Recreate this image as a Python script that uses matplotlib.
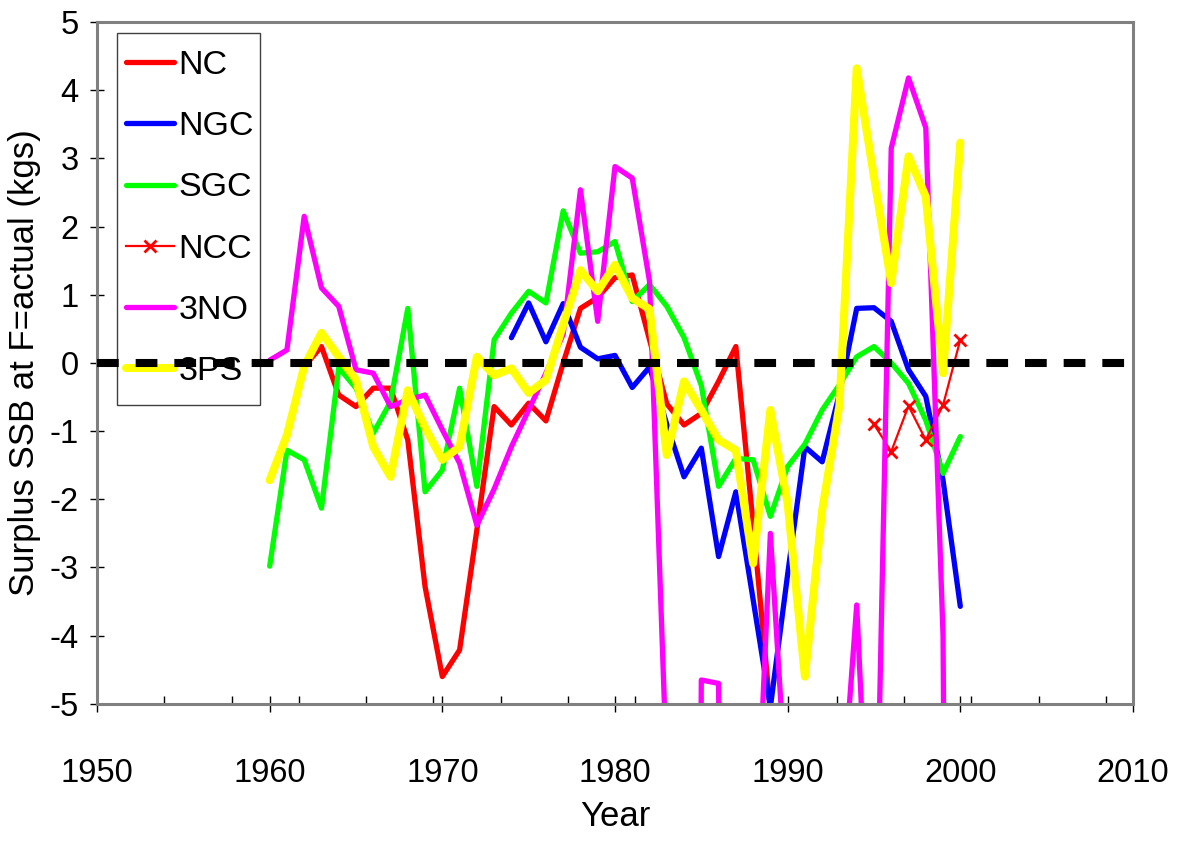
import numpy as np
import matplotlib
matplotlib.use('Agg')
import matplotlib.pyplot as plt
from matplotlib.patches import Rectangle
from matplotlib.ticker import FixedLocator, MultipleLocator

plt.rcParams['font.family'] = ['Liberation Sans', 'DejaVu Sans']
plt.rcParams['axes.unicode_minus'] = False

nan = np.nan
years = np.arange(1960, 2001)

# NC empieza en 1962, despues de 1989 queda fuera de escala
nc = [nan, nan, -0.05, 0.24, -0.47, -0.64, -0.37, -0.37, -1.13, -3.28,
      -4.60, -4.21, -2.45, -0.64, -0.91, -0.59, -0.85, 0.0, 0.80, 0.96,
      1.25, 1.29, 0.34, -0.60, -0.91, -0.74, -0.27, 0.24, -2.36, -5.1,
      nan, nan, nan, nan, nan, nan, nan, nan, nan, nan, nan]

ngc = [nan] * 14 + [0.37, 0.88, 0.31, 0.87, 0.23, 0.06, 0.11, -0.36, -0.06,
                    -0.90, -1.67, -1.25, -2.84, -1.89, -3.47, -5.05, -3.1,
                    -1.23, -1.45, -0.45, 0.80, 0.81, 0.61, -0.10, -0.49,
                    -1.72, -3.57]

sgc = [-2.98, -1.28, -1.42, -2.13, -0.07, -0.37, -1.03, -0.57, 0.80, -1.89,
       -1.57, -0.37, -1.81, 0.34, 0.73, 1.05, 0.88, 2.23, 1.61, 1.63,
       1.78, 0.90, 1.15, 0.83, 0.37, -0.33, -1.81, -1.40, -1.42, -2.25,
       -1.52, -1.19, -0.69, -0.32, 0.09, 0.24, 0.0, -0.30, -0.84, -1.62,
       -1.08]

ncc = [nan] * 35 + [-0.90, -1.30, -0.63, -1.13, -0.62, 0.34]

# 3NO: valores por debajo de -5 quedan cortados por el eje
no3 = [0.04, 0.19, 2.15, 1.10, 0.83, -0.10, -0.15, -0.64, -0.54, -0.47,
       -0.98, -1.47, -2.38, -1.85, -1.23, -0.69, -0.15, 0.42, 2.54, 0.61,
       2.88, 2.71, 1.20, -6.0, -40.0, -4.65, -4.70, -40.0, -8.2, -2.5,
       -6.6, -40.0, -40.0, -7.0, -3.55, -9.0, 3.15, 4.18, 3.45, -4.0,
       -40.0]

ps3 = [-1.72, -1.06, -0.05, 0.44, 0.09, -0.25, -1.23, -1.67, -0.40, -0.95,
       -1.42, -1.23, 0.09, -0.18, -0.08, -0.44, -0.25, 0.56, 1.36, 1.05,
       1.44, 0.95, 0.79, -1.35, -0.27, -0.69, -1.13, -1.28, -2.94, -0.69,
       -2.06, -4.60, -2.16, -0.62, 4.32, 2.73, 1.17, 3.03, 2.44, -0.15,
       3.23]

fig = plt.figure(figsize=(11.83, 8.46), dpi=100)
ax = fig.add_axes([0.082, 0.168, 0.8757, 0.806])

kw = dict(solid_joinstyle='round', solid_capstyle='round')
ax.plot(years, nc, color='#ff0000', lw=3.8, label='NC', **kw)
ax.plot(years, ngc, color='#0000ff', lw=3.8, label='NGC', **kw)
ax.plot(years, sgc, color='#00ff00', lw=3.8, label='SGC', **kw)
ax.plot(years, ncc, color='#ff0000', lw=1.6, marker='x', ms=8, mew=2,
        label='NCC')
ax.plot(years, no3, color='#ff00ff', lw=3.8, label='3NO', **kw)
ax.plot(years, ps3, color='#ffff00', lw=5.8, label='3PS', **kw)

# linea de referencia en cero
ax.axhline(0, color='black', lw=5.8, dashes=(2.7, 2.1), zorder=10)

ax.set_xlim(1950, 2010)
ax.set_ylim(-5, 5)
ax.xaxis.set_major_locator(MultipleLocator(10))
ax.xaxis.set_minor_locator(FixedLocator(np.arange(1950, 2010, 3.896)))
ax.yaxis.set_major_locator(MultipleLocator(1))
ax.tick_params(axis='x', which='major', direction='inout', length=12,
               width=1, pad=33, labelsize=23.5)
ax.tick_params(axis='x', which='minor', direction='in', length=6, width=1)
ax.tick_params(axis='y', which='major', direction='inout', length=10,
               width=1, pad=8, labelsize=23.5)

for s in ax.spines.values():
    s.set_color('#808080')
    s.set_linewidth(2.2)

ax.set_xlabel('Year', fontsize=25, labelpad=8)
ax.set_ylabel('Surplus SSB at F=actual (kgs)', fontsize=25, labelpad=6)

# marco de la leyenda dibujado aparte (mas estrecho que el de matplotlib)
ax.add_patch(Rectangle((0.0193, 0.4384), 0.138, 0.5456, transform=ax.transAxes,
                       facecolor='white', edgecolor='#404040', lw=1.0,
                       zorder=4.5))
leg = ax.legend(loc='upper left', bbox_to_anchor=(0.0115, 0.984),
                fontsize=24.5, frameon=False, handlelength=1.4,
                handletextpad=0.15, borderpad=0.5, labelspacing=0.89,
                borderaxespad=0)

fig.savefig('out.png', dpi=100)
